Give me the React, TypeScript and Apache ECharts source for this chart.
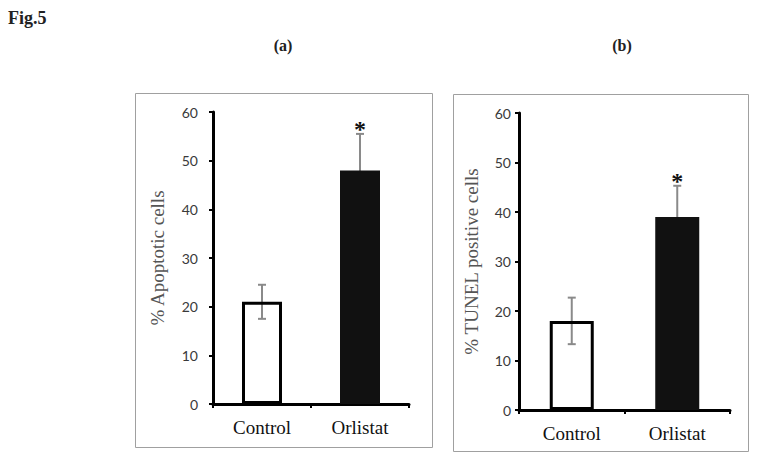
import React, { useEffect, useRef } from "react";
import * as echarts from "echarts";

const categories = ["Control", "Orlistat"];
const apoptoticMeans = [21, 48];
const apoptoticErr = [3.5, 7.5];
const tunelMeans = [18, 39];
const tunelErr = [4.7, 6.3];
const significant = [false, true];
const yTicks = { min: 0, max: 60, interval: 10 };
const panelTitles = ["(a)", "(b)"];
const yNames = ["% Apoptotic cells", "% TUNEL positive cells"];
const figTitle = "Fig.5";

const serif = "'Liberation Serif', 'Times New Roman', serif";
const sans = "Lato, 'Open Sans', sans-serif";

function errRender(params: any, api: any) {
  const x = api.value(0);
  const lo = api.coord([x, api.value(1)]);
  const hi = api.coord([x, api.value(2)]);
  const sig = api.value(3) === 1;
  const cap = 4;
  const style = { stroke: "#8a8a8a", lineWidth: 2 };
  const children: any[] = [
    { type: "line", shape: { x1: hi[0], y1: hi[1], x2: lo[0], y2: lo[1] }, style },
    { type: "line", shape: { x1: hi[0] - cap, y1: hi[1], x2: hi[0] + cap, y2: hi[1] }, style },
    { type: "line", shape: { x1: lo[0] - cap, y1: lo[1], x2: lo[0] + cap, y2: lo[1] }, style },
  ];
  if (sig) {
    children.push({
      type: "text",
      x: hi[0],
      y: hi[1] - 5,
      style: {
        text: "*",
        fill: "#111",
        font: "bold 24px " + serif,
        align: "center",
        verticalAlign: "middle",
      },
    });
  }
  return { type: "group", children };
}

function errData(means: number[], errs: number[]) {
  return means.map((m, i) => [i, m - errs[i], m + errs[i], significant[i] ? 1 : 0]);
}

function barData(means: number[]) {
  return means.map((m, i) => ({
    value: m,
    itemStyle:
      i === 0
        ? { color: "rgba(255,255,255,0)", borderColor: "#000", borderWidth: 3 }
        : { color: "#111", borderColor: "#111", borderWidth: 2 },
  }));
}

function yAxis(gridIndex: number, labelMargin: number, nameGap: number) {
  return {
    type: "value",
    gridIndex,
    min: yTicks.min,
    max: yTicks.max,
    interval: yTicks.interval,
    name: yNames[gridIndex],
    nameLocation: "middle",
    nameGap,
    nameTextStyle: { fontFamily: serif, fontSize: 19, color: "#555" },
    axisLine: { show: true, lineStyle: { color: "#000", width: 3 } },
    axisTick: { show: true, length: 4, lineStyle: { color: "#000", width: 2 } },
    axisLabel: { color: "#3a3a3a", fontFamily: sans, fontSize: 14, margin: labelMargin },
    splitLine: { show: false },
  };
}

function xAxis(gridIndex: number, margin: number) {
  return {
    type: "category",
    gridIndex,
    data: categories,
    boundaryGap: true,
    axisLine: { show: true, lineStyle: { color: "#000", width: 3 } },
    axisTick: { show: true, length: 4, interval: 0, lineStyle: { color: "#000", width: 2 } },
    axisLabel: { color: "#111", fontFamily: serif, fontSize: 19, margin },
  };
}

export default function App() {
  const ref = useRef<HTMLDivElement>(null);
  useEffect(() => {
    document.body.style.margin = "0";
    const chart = echarts.init(ref.current!, null, { renderer: "svg" });
    chart.setOption({
      animation: false,
      backgroundColor: "#fff",
      grid: [
        { left: 213, right: 758 - 409, top: 112, bottom: 460 - 404 },
        { left: 519, right: 758 - 730, top: 113, bottom: 460 - 410 },
      ],
      xAxis: [xAxis(0, 14), xAxis(1, 14)],
      yAxis: [yAxis(0, 15, 46), yAxis(1, 8, 38)],
      graphic: [
        {
          type: "rect",
          shape: { x: 135.5, y: 93.5, width: 297, height: 354 },
          style: { fill: "none", stroke: "#a0a0a0", lineWidth: 1 },
          z: -1,
        },
        {
          type: "rect",
          shape: { x: 453.5, y: 94.5, width: 295, height: 357 },
          style: { fill: "none", stroke: "#a0a0a0", lineWidth: 1 },
          z: -1,
        },
        {
          type: "text",
          left: 8,
          top: 9,
          style: { text: figTitle, font: "bold 18px " + serif, fill: "#222" },
        },
        {
          type: "text",
          x: 283,
          y: 45,
          style: { text: panelTitles[0], font: "bold 16px " + serif, fill: "#222", align: "center", verticalAlign: "middle" },
        },
        {
          type: "text",
          x: 622,
          y: 45,
          style: { text: panelTitles[1], font: "bold 16px " + serif, fill: "#222", align: "center", verticalAlign: "middle" },
        },
      ],
      series: [
        {
          type: "bar",
          xAxisIndex: 0,
          yAxisIndex: 0,
          barWidth: 40,
          data: barData(apoptoticMeans),
          z: 3,
        },
        {
          type: "custom",
          xAxisIndex: 0,
          yAxisIndex: 0,
          renderItem: errRender,
          data: errData(apoptoticMeans, apoptoticErr),
          z: 2,
        },
        {
          type: "bar",
          xAxisIndex: 1,
          yAxisIndex: 1,
          barWidth: 44,
          data: barData(tunelMeans),
          z: 3,
        },
        {
          type: "custom",
          xAxisIndex: 1,
          yAxisIndex: 1,
          renderItem: errRender,
          data: errData(tunelMeans, tunelErr),
          z: 2,
        },
      ],
    });
    return () => chart.dispose();
  }, []);
  return <div ref={ref} style={{ width: 758, height: 460 }} />;
}
